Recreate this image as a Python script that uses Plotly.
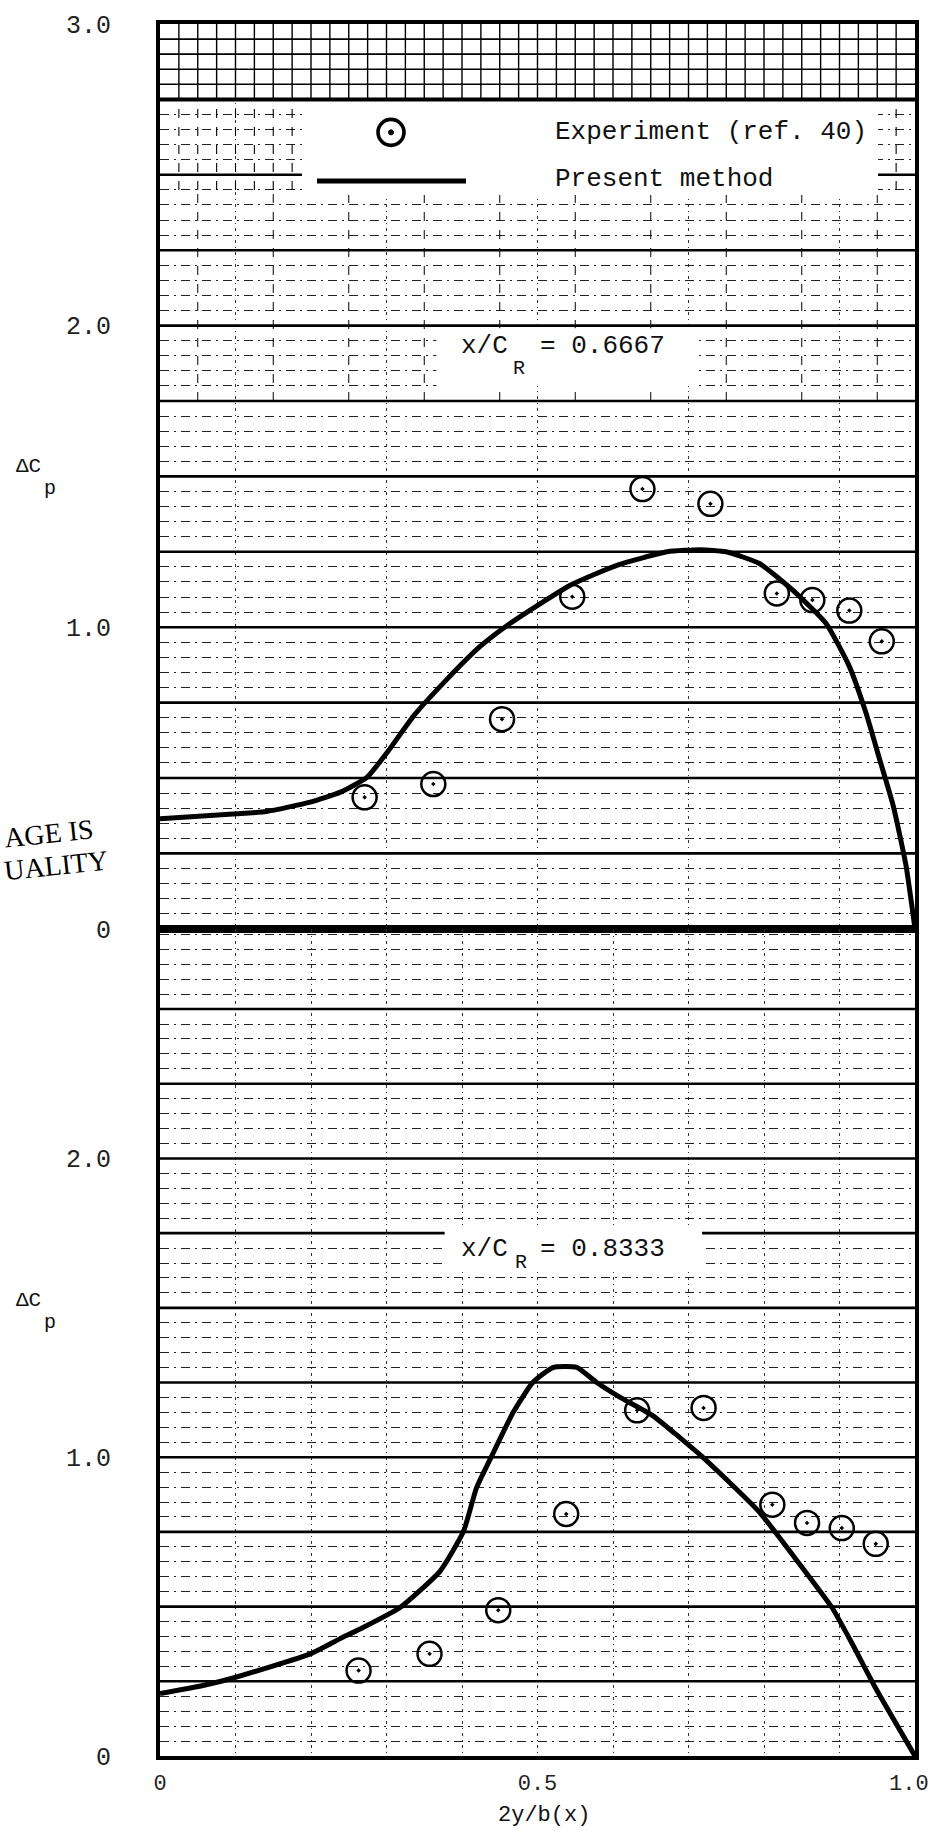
import plotly.graph_objects as go

# ---------------- data ----------------
up_pts_x = [0.271, 0.362, 0.453, 0.546, 0.639, 0.729, 0.817, 0.864, 0.913, 0.956]
up_pts_y = [0.436, 0.480, 0.695, 1.101, 1.458, 1.409, 1.112, 1.090, 1.055, 0.953]

up_curve_x = [0.0, 0.102, 0.141, 0.199, 0.239, 0.274, 0.301, 0.336, 0.380, 0.424,
              0.464, 0.544, 0.606, 0.672, 0.716, 0.750, 0.794, 0.838, 0.882, 0.913,
              0.935, 0.953, 0.971, 0.988, 1.0]
up_curve_y = [0.365, 0.381, 0.389, 0.420, 0.453, 0.502, 0.585, 0.706, 0.827, 0.936,
              1.013, 1.140, 1.206, 1.250, 1.257, 1.250, 1.211, 1.123, 1.013, 0.870,
              0.716, 0.563, 0.409, 0.211, 0.0]

lo_pts_x = [0.263, 0.357, 0.448, 0.538, 0.632, 0.720, 0.811, 0.857, 0.903, 0.948]
lo_pts_y = [0.286, 0.342, 0.488, 0.810, 1.157, 1.165, 0.841, 0.780, 0.763, 0.710]

lo_curve_x = [0.0, 0.057, 0.097, 0.199, 0.238, 0.265, 0.318, 0.371, 0.402, 0.419,
              0.439, 0.468, 0.494, 0.521, 0.552, 0.578, 0.609, 0.652, 0.718, 0.793,
              0.841, 0.890, 0.917, 0.947, 1.0]
lo_curve_y = [0.209, 0.236, 0.261, 0.342, 0.392, 0.425, 0.497, 0.619, 0.752, 0.896,
              1.002, 1.151, 1.251, 1.301, 1.301, 1.251, 1.201, 1.140, 1.002, 0.819,
              0.663, 0.497, 0.375, 0.231, 0.0]

x_tickvals = [0, 0.5]
x_ticktext = ["0", "0.5"]
x_last_tick = "1.0"          # drawn at the right page edge (cut off in the original)
up_tickvals = [0, 1, 2, 3]
up_ticktext = ["0", "1.0", "2.0", "3.0"]
lo_tickvals = [0, 1, 2]
lo_ticktext = ["0", "1.0", "2.0"]

upper_label = "= 0.6667"
lower_label = "= 0.8333"

# ---------------- layout geometry ----------------
W, H = 932, 1838
L, R, T, B = 160, 17, 14, 82
PW = W - L - R
PH = H - T - B
split = (1756 - 924) / PH          # boundary between panels (paper fraction)
UP_MAX = 3.0
LO_MAX = (1756 - 924) / 300.5

MONO = "Liberation Mono, DejaVu Sans Mono, monospace"
SERIF = "Liberation Serif, DejaVu Serif, serif"


def pxx(p):
    return (p - L) / PW


def pxy(p):
    return (H - B - p) / PH


fig = go.Figure()

curve_style = dict(color="black", width=5, shape="spline", smoothing=0.5)
marker_style = dict(symbol="circle-open-dot", size=24, color="black",
                    line=dict(color="black", width=2.5))

fig.add_trace(go.Scatter(x=up_curve_x, y=up_curve_y, mode="lines", line=curve_style,
                         xaxis="x", yaxis="y", showlegend=False, hoverinfo="skip"))
fig.add_trace(go.Scatter(x=up_pts_x, y=up_pts_y, mode="markers", marker=marker_style,
                         xaxis="x", yaxis="y", showlegend=False))
fig.add_trace(go.Scatter(x=lo_curve_x, y=lo_curve_y, mode="lines", line=curve_style,
                         xaxis="x2", yaxis="y2", showlegend=False, hoverinfo="skip"))
fig.add_trace(go.Scatter(x=lo_pts_x, y=lo_pts_y, mode="markers", marker=marker_style,
                         xaxis="x2", yaxis="y2", showlegend=False))

xminor = dict(dtick=0.1, tick0=0, showgrid=True, gridcolor="#333", gridwidth=1.2,
              griddash="3px,4px,1px,4px", ticks="")
yminor = dict(dtick=0.05, tick0=0, showgrid=True, gridcolor="#222", gridwidth=1.4,
              griddash="9px,5px,2px,5px", ticks="")

axis_common = dict(showline=True, linecolor="black", linewidth=4, mirror=True,
                   zeroline=False, showgrid=False, ticks="",
                   tickfont=dict(family=MONO, size=25, color="#222"))

fig.update_layout(
    width=W, height=H,
    margin=dict(l=L, r=R, t=T, b=B),
    paper_bgcolor="white", plot_bgcolor="white",
    xaxis=dict(domain=[0, 1], range=[0, 1], anchor="y", showticklabels=False,
               minor=xminor, **axis_common),
    yaxis=dict(domain=[split, 1], range=[0, UP_MAX], anchor="x",
               tickvals=up_tickvals, ticktext=up_ticktext, ticklabelstandoff=40,
               minor=yminor, **axis_common),
    xaxis2=dict(domain=[0, 1], range=[0, 1], anchor="y2", matches="x",
                tickvals=x_tickvals, ticktext=x_ticktext, ticklabelstandoff=4,
                minor=xminor, **axis_common),
    yaxis2=dict(domain=[0, split], range=[0, LO_MAX], anchor="x2",
                tickvals=lo_tickvals, ticktext=lo_ticktext, ticklabelstandoff=40,
                minor=yminor, **axis_common),
)
fig.update_xaxes(tickfont=dict(size=22))

shapes = []


def hline(xr, yr, v, width, x0=0.0, x1=1.0, dash="solid"):
    shapes.append(dict(type="line", xref=xr, yref=yr, x0=x0, x1=x1, y0=v, y1=v,
                       line=dict(color="black", width=width, dash=dash), layer="between"))


def vline(xr, yr, u, y0, y1, width, dash="solid"):
    shapes.append(dict(type="line", xref=xr, yref=yr, x0=u, x1=u, y0=y0, y1=y1,
                       line=dict(color="black", width=width, dash=dash), layer="between"))


# thick lines every 0.25
for k in range(1, 12):
    hline("x", "y", k * 0.25, 4 if k == 11 else 2.6)
for k in range(1, 11):
    hline("x2", "y2", k * 0.25, 2.6)

# dense band at the top of the upper panel
for k in range(1, 5):
    hline("x", "y", 2.75 + k * 0.05, 1.6)
for k in range(1, 40):
    vline("x", "y", k * 0.025, 2.75, 3.0, 1.4)
# denser verticals in the upper part
for k in range(1, 40):
    vline("x", "y", k * 0.025, 2.45, 2.75, 1.1, dash="dash")
for k in range(1, 20):
    if k % 2:
        vline("x", "y", k * 0.05, 1.75, 2.45, 1.0, dash="dash")


# white boxes (legend, labels) in axis coordinates so they sit above the grid
def wbox(xr, yr, x0, x1, y0, y1):
    shapes.append(dict(type="rect", xref=xr, yref=yr, x0=x0, x1=x1, y0=y0, y1=y1,
                       fillcolor="white", line=dict(width=0), layer="between"))


wbox("x", "y", 0.188, 0.951, 2.433, 2.738)
wbox("x", "y", 0.366, 0.710, 1.800, 1.991)
wbox("x2", "y2", 0.377, 0.718, 1.625, 1.765)

# legend symbols
cx, cy = pxx(391), pxy(123)
shapes.append(dict(type="circle", xref="paper", yref="paper", xsizemode="pixel",
                   ysizemode="pixel", xanchor=cx, yanchor=cy, x0=-13, x1=13, y0=-13, y1=13,
                   line=dict(color="black", width=3.6), layer="above"))
shapes.append(dict(type="circle", xref="paper", yref="paper", xsizemode="pixel",
                   ysizemode="pixel", xanchor=cx, yanchor=cy, x0=-2.5, x1=2.5, y0=-2.5, y1=2.5,
                   fillcolor="black", line=dict(color="black", width=1), layer="above"))
shapes.append(dict(type="line", xref="paper", yref="paper", x0=pxx(317), x1=pxx(466),
                   y0=pxy(172), y1=pxy(172), line=dict(color="black", width=5), layer="above"))

fig.update_layout(shapes=shapes)

ann = []


def text(s, x, y, size=26, xanchor="center", family=MONO, angle=0, color="#111"):
    ann.append(dict(text=s, x=pxx(x), y=pxy(y), xref="paper", yref="paper",
                    xanchor=xanchor, yanchor="middle", showarrow=False, textangle=angle,
                    font=dict(family=family, size=size, color=color)))


# legend texts
text("Experiment (ref. 40)", 553, 123, xanchor="left")
text("Present method", 553, 170, xanchor="left")

# panel labels
text("x/C", 510, 338, xanchor="right")
text("R", 511, 360, size=20, xanchor="left")
text(upper_label, 538, 338, xanchor="left")
text("x/C", 510, 1246, xanchor="right")
text("R", 513, 1260, size=20, xanchor="left")
text(lower_label, 538, 1246, xanchor="left")

# y-axis titles
for yc in (459, 1298):
    text("\u0394C", 28, yc, size=21)
    text("p", 50, yc + 22, size=20)

# last x tick label, cut by the page edge in the original
ann.append(dict(text=x_last_tick, x=1.0, xref="x2", y=pxy(1785), yref="paper",
                xanchor="center", xshift=-6, yanchor="middle", showarrow=False,
                font=dict(family=MONO, size=22, color="#222")))

# x-axis title
text("2y/b(x)", 544, 1816, size=22)

# scanned margin note
text("AGE IS", 0, 828, size=28, xanchor="left", family=SERIF, angle=-6, color="#000")
text("UALITY", 0, 860, size=28, xanchor="left", family=SERIF, angle=-6, color="#000")

fig.update_layout(annotations=ann)

fig.write_html(
    "out.html",
    config={"displayModeBar": False},
    post_script=("document.body.style.margin='0px';document.body.style.padding='0px';"
                 "document.body.style.overflow='hidden';"
                 "document.documentElement.style.overflow='hidden';"),
)
